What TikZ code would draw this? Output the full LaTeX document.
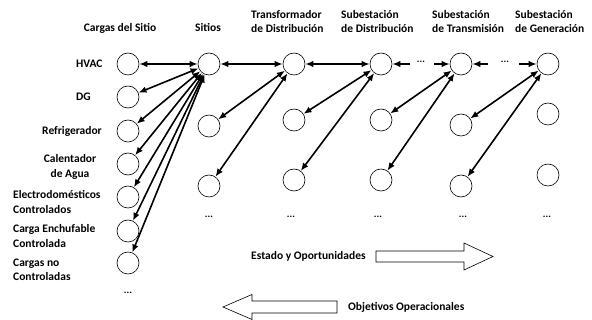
\documentclass[tikz,border=0pt]{standalone}
\usepackage{fontspec}
\setmainfont{Carlito}
\usetikzlibrary{arrows.meta}
\begin{document}
\begin{tikzpicture}[x=1pt,y=-1pt,
  nd/.style={circle,draw,line width=0.6pt,minimum size=22pt,inner sep=0pt},
  lab/.style={font=\bfseries\fontsize{11.5}{14.5}\selectfont,inner sep=0pt},
  dts/.style={font=\bfseries\fontsize{10}{12}\selectfont,inner sep=0pt},
  link/.style={line width=1.6pt,{Latex[length=8pt,width=6.5pt]}-{Latex[length=8pt,width=6.5pt]}},
  half/.style={line width=1.6pt,-{Latex[length=8pt,width=6.5pt]}},
  block/.style={draw,line width=0.6pt,fill=white}]
\useasboundingbox (0,0) rectangle (592,320);
% circles
\node[nd] (l0) at (128,64) {};
\node[nd] (l1) at (128,97) {};
\node[nd] (l2) at (128,131) {};
\node[nd] (l3) at (128,164) {};
\node[nd] (l4) at (128,197) {};
\node[nd] (l5) at (128,231) {};
\node[nd] (l6) at (128,263) {};
\node[nd] (s0) at (209,64) {};
\node[nd] (s1) at (209,126) {};
\node[nd] (s2) at (209,186) {};
\node[nd] (t0) at (294,64) {};
\node[nd] (t1) at (294,120) {};
\node[nd] (t2) at (294,180) {};
\node[nd] (d0) at (381,64) {};
\node[nd] (d1) at (381,120) {};
\node[nd] (d2) at (381,180) {};
\node[nd] (m0) at (461,64) {};
\node[nd] (m1) at (461,125) {};
\node[nd] (m2) at (461,186) {};
\node[nd] (g0) at (548,64) {};
\node[nd] (g1) at (548,114) {};
\node[nd] (g2) at (548,175) {};
% dots
\node[dts] (dl) at (128,293) {...};
\node[dts] (ds) at (209,217) {...};
\node[dts] (dt) at (291,217) {...};
\node[dts] (dd) at (378,217) {...};
\node[dts] (dm) at (463,217) {...};
\node[dts] (dg2) at (547,217) {...};
\node[dts] (h34) at (421,62) {...};
\node[dts] (h45) at (505,62) {...};
% headers
\node[lab] (hc) at (120,28) {Cargas del Sitio};
\node[lab] (hs) at (208,28) {Sitios};
\node[lab,align=left,anchor=west] (ht) at (251,21.5) {Transformador\\de Distribución};
\node[lab,align=left,anchor=west] (hd) at (341,21.5) {Subestación\\de Distribución};
\node[lab,align=left,anchor=west] (hm) at (432,21.5) {Subestación\\de Transmisión};
\node[lab,align=left,anchor=west] (hg) at (515,21.5) {Subestación\\de Generación};
% load labels
\node[lab,anchor=west] (thvac) at (76,64) {HVAC};
\node[lab,anchor=west] (tdg) at (76,97) {DG};
\node[lab,anchor=west] (tref) at (42,131) {Refrigerador};
\node[lab,align=center] (tcal) at (70,167) {Calentador\\de Agua};
\node[lab,align=left,anchor=west] (tel) at (13,202) {Electrodomésticos\\Controlados};
\node[lab,align=left,anchor=west] (tce) at (13,236) {Carga Enchufable\\Controlada};
\node[lab,align=left,anchor=west] (tcn) at (13,270) {Cargas no\\Controladas};
% connectors
\draw[link] (l0) -- (s0);
\foreach \i in {1,...,6} \draw[link] (s0) -- (l\i);
\draw[link] (s0) -- (t0);
\draw[link] (t0) -- (s1);
\draw[link] (t0) -- (s2);
\draw[link] (t0) -- (d0);
\draw[link] (d0) -- (t1);
\draw[link] (d0) -- (t2);
\coordinate (a1) at (410,64);
\coordinate (a2) at (434,64);
\coordinate (a3) at (488,64);
\coordinate (a4) at (519,64);
\draw[half] (a1) -- (d0);
\draw[half] (a2) -- (m0);
\draw[half] (a3) -- (m0);
\draw[half] (a4) -- (g0);
\draw[link] (m0) -- (d1);
\draw[link] (m0) -- (d2);
\draw[link] (g0) -- (m1);
\draw[link] (g0) -- (m2);
% block arrows
\draw[block] (376,251) -- (464,251) -- (464,243) -- (493,256.5) -- (464,270) -- (464,262) -- (376,262) -- cycle;
\draw[block] (337,301) -- (252,301) -- (252,294.5) -- (223,307) -- (252,319.5) -- (252,313) -- (337,313) -- cycle;
\node[lab,anchor=west] (test) at (251,256) {Estado y Oportunidades};
\node[lab,anchor=west] (tobj) at (348,307) {Objetivos Operacionales};
\end{tikzpicture}
\end{document}
